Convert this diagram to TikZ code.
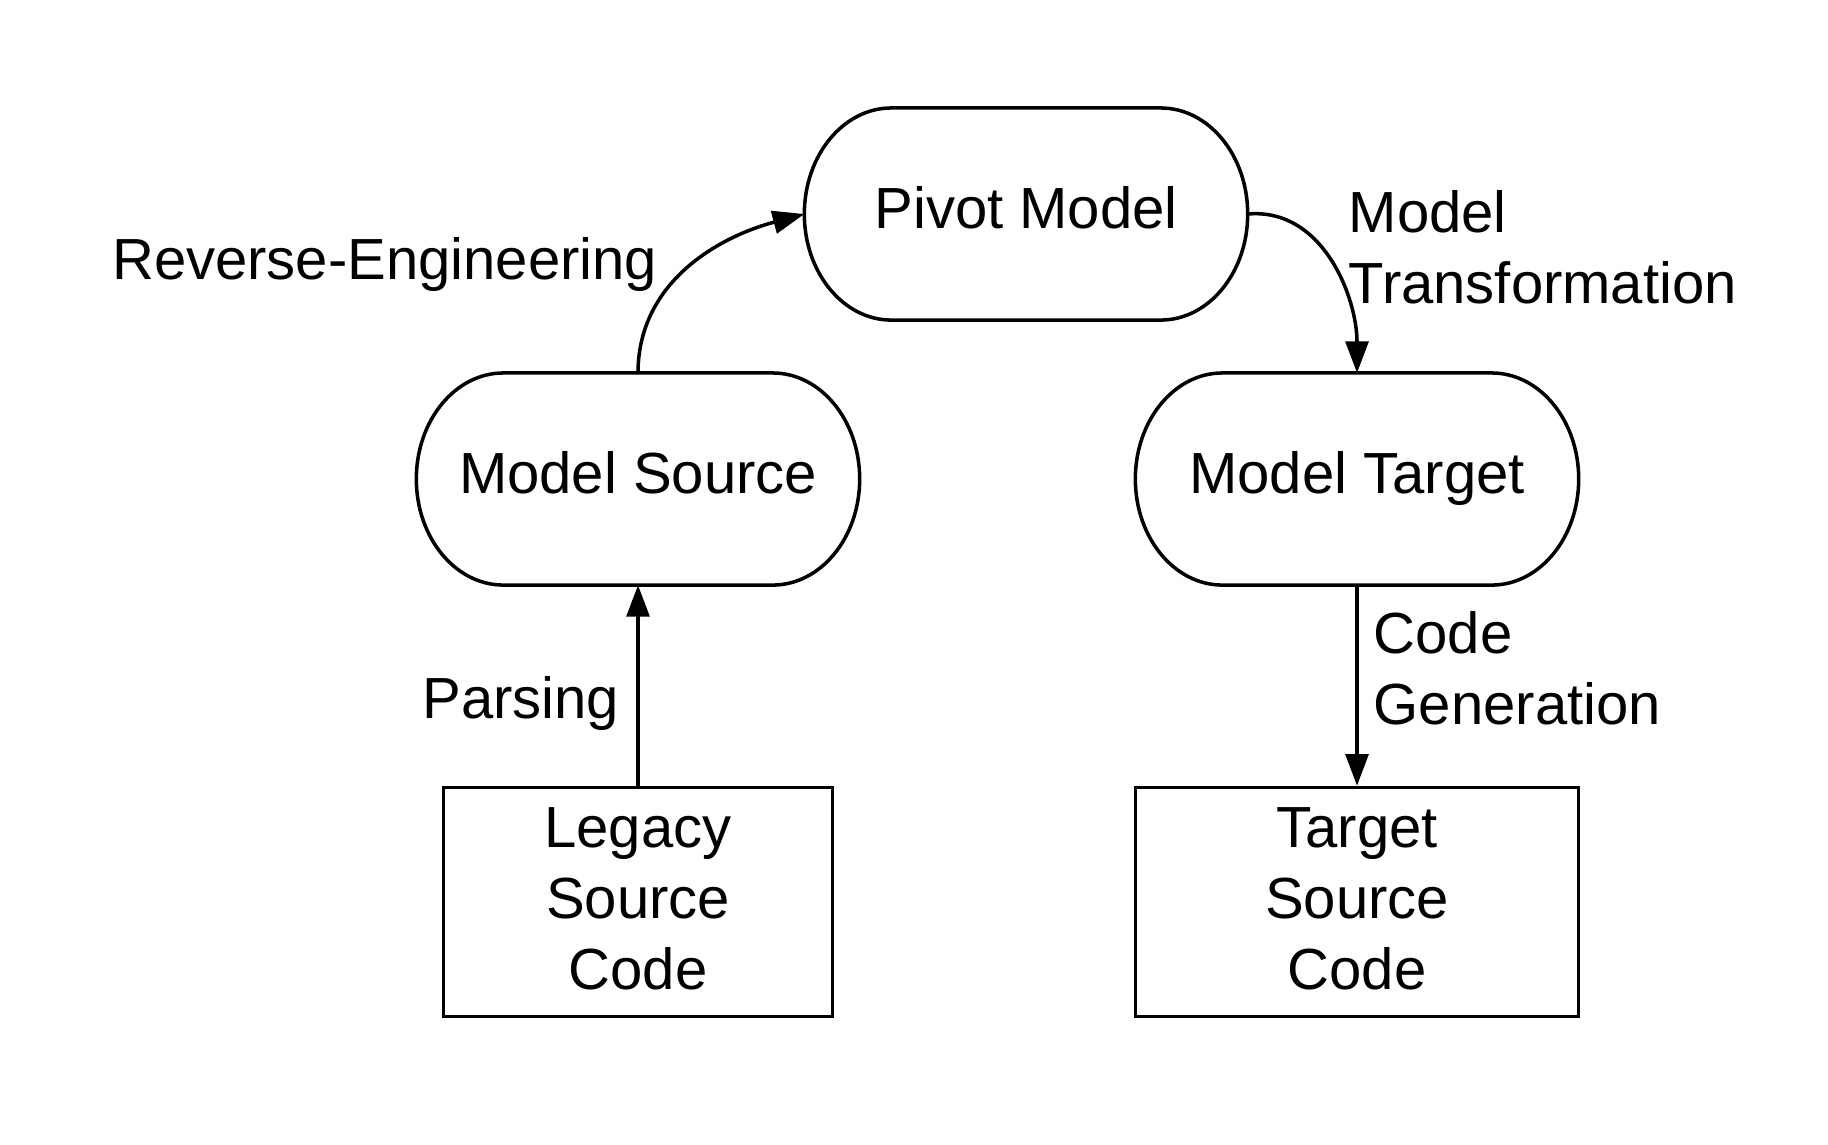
\documentclass[tikz,border=0pt]{standalone}
\usepackage{fontspec}
\setmainfont{Liberation Sans}
\usetikzlibrary{arrows.meta, calc}
\tikzset{
  every picture/.style={line width=1pt},
  pill/.style={minimum width=4.43cm, minimum height=2.12cm, align=center, inner sep=0pt, outer sep=0pt, text depth=0.35em},
  codebox/.style={draw, minimum height=2.29cm, align=center, inner sep=0pt, text depth=0.22em},
  arrow/.style={-{Triangle[length=9pt, width=6.5pt]}},
  lbl/.style={align=left, inner sep=0pt},
}
\begin{document}
\begin{tikzpicture}[x=0.01cm, y=0.01cm, every node/.append style={font=\fontsize{16.5}{20.2}\selectfont}]
  \useasboundingbox (0,0) rectangle (1828,-1144);
  % model nodes
  \node[pill] (pivot) at (1026,-214) {Pivot Model};
  \node[pill] (msrc) at (638,-479) {Model Source};
  \node[pill] (mtgt) at (1357,-479) {Model Target};
  \foreach \n in {pivot, msrc, mtgt} {
    \draw ($(\n.north west)+(87,0)$) -- ($(\n.north east)+(-87,0)$)
      arc[start angle=90, end angle=-90, x radius=0.87cm, y radius=1.06cm]
      -- ($(\n.south west)+(87,0)$)
      arc[start angle=270, end angle=90, x radius=0.87cm, y radius=1.06cm] -- cycle;
  }
  % code nodes
  \node[codebox, minimum width=3.89cm] (legacy) at (638,-902) {Legacy\\Source\\Code};
  \node[codebox, minimum width=4.43cm] (target) at (1357,-902) {Target\\Source\\Code};
  % transformations
  \draw[arrow] (legacy) -- (msrc);
  \draw[arrow] (msrc.north) to[out=90, in=195] (pivot.west);
  \draw[arrow] (pivot.east) to[out=5, in=90] (mtgt.north);
  \draw[arrow] (mtgt) -- (target);
  \node[lbl, anchor=north east] (relbl) at (659,-236) {Reverse-Engineering};
  \node[lbl, anchor=north east] (parslbl) at (621,-675) {Parsing};
  \node[lbl, anchor=north west] (mtlbl) at (1347,-189) {Model\\Transformation};
  \node[lbl, anchor=north west] (cglbl) at (1372,-610) {Code\\Generation};
\end{tikzpicture}
\end{document}
